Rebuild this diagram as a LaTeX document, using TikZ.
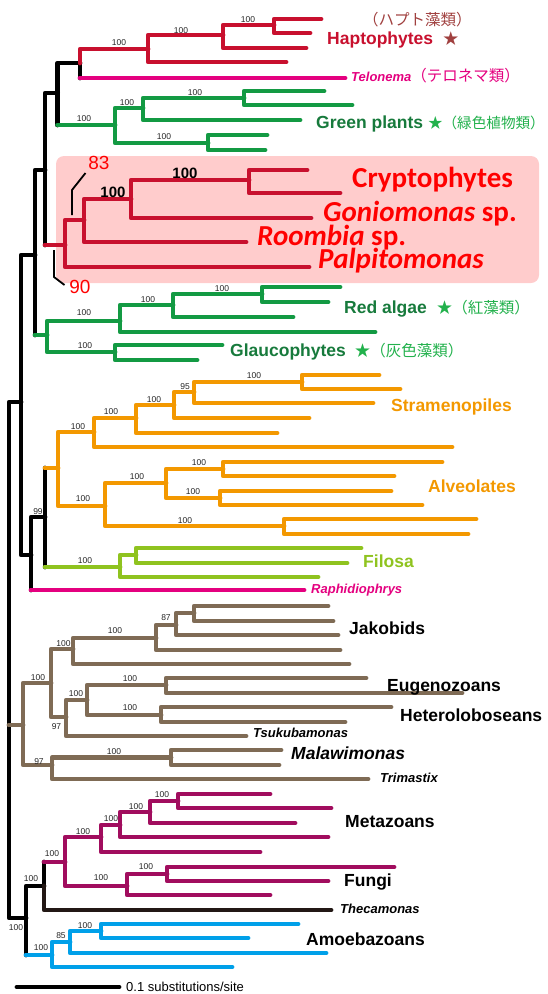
\documentclass[tikz,border=0pt]{standalone}
\usepackage{fontspec}
\setmainfont{Liberation Sans}
\newfontfamily\jpfont{Noto Sans CJK JP}
\newfontfamily\cryfont{Carlito}
\newcommand{\jps}{\fontsize{15.5}{17}\selectfont\mdseries\upshape\jpfont}
\usetikzlibrary{calc}

\definecolor{hapred}{HTML}{C8102E}
\definecolor{hapjp}{HTML}{A0403F}
\definecolor{telpink}{HTML}{E4007F}
\definecolor{grn}{HTML}{139A43}
\definecolor{grntext}{HTML}{177A3C}
\definecolor{grnjp}{HTML}{22B14C}
\definecolor{org}{HTML}{F39800}
\definecolor{fil}{HTML}{8FC31F}
\definecolor{exc}{HTML}{7F6B55}
\definecolor{opi}{HTML}{A10D5E}
\definecolor{amo}{HTML}{00A0E9}
\definecolor{thec}{HTML}{231815}
\definecolor{boxpink}{HTML}{FFCCCC}

\tikzset{
  branch/.style={line width=4.8pt, line cap=round, line join=round},
  bb/.style={branch, draw=black},
  hap/.style={branch, draw=hapred},
  pnk/.style={branch, draw=telpink},
  grb/.style={branch, draw=grn},
  orb/.style={branch, draw=org},
  fib/.style={branch, draw=fil},
  exb/.style={branch, draw=exc},
  opb/.style={branch, draw=opi},
  amb/.style={branch, draw=amo},
  thb/.style={branch, draw=thec},
  lead/.style={line width=1.8pt, draw=black, line join=round},
  boot/.style={inner sep=0pt, font=\fontsize{8.5}{9}\selectfont, text=black!85},
  bootbig/.style={inner sep=0pt, font=\fontsize{15}{16}\selectfont\bfseries},
  clade/.style={anchor=base west, inner sep=0pt, font=\fontsize{17.5}{19}\selectfont\bfseries},
  taxon/.style={anchor=base west, inner sep=0pt, font=\fontsize{13}{15}\selectfont\bfseries\itshape},
  crypto/.style={anchor=base west, inner sep=0pt, text=red, font=\fontsize{29}{31}\selectfont\cryfont\bfseries},
  jplabel/.style={anchor=base west, inner sep=0pt, font=\jps}
}

\begin{document}
\begin{tikzpicture}[x=1pt, y=-1pt]
  \useasboundingbox (0,0) rectangle (547,994);
  \newcommand{\Supp}[3]{\node[boot] (#1) at (#2) {#3};}

  % highlighted cryptophyte box
  \fill[boxpink, rounded corners=8pt] (56,156) rectangle (539,283);

  % backbone nodes
  \coordinate (root) at (9,725);
  \coordinate (D)    at (21,402);
  \coordinate (C)    at (35,255);
  \coordinate (B)    at (45,170);
  \coordinate (HG)   at (57.6,93);
  \coordinate (S)    at (31,555);
  \coordinate (SF)   at (45,517);
  \coordinate (AM)   at (26,918);
  \coordinate (Ob)   at (44,886);

  % haptophytes + Telonema
  \coordinate (H0) at (80,63);
  \coordinate (H2) at (148,49);
  \coordinate (H3) at (223,35);
  \coordinate (H4) at (274,25);
  \coordinate (h2t) at (286,62);
  \coordinate (h3t) at (306,48);
  \coordinate (h4a) at (321,19);
  \coordinate (h4b) at (310,33);
  \coordinate (telt) at (345,78);

  % green plants
  \coordinate (G1) at (115,125);
  \coordinate (G2) at (143,108);
  \coordinate (G3) at (244,98);
  \coordinate (G4) at (208,143);
  \coordinate (g2t) at (300,120);
  \coordinate (g3a) at (324,91);
  \coordinate (g3b) at (352,105);
  \coordinate (g4a) at (267,135);
  \coordinate (g4b) at (265,150);

  % cryptophytes and relatives
  \coordinate (Cr) at (65,245);
  \coordinate (C2) at (84,220);
  \coordinate (C3) at (131,199);
  \coordinate (C4) at (249,180);
  \coordinate (palp)  at (309,267);
  \coordinate (roomb) at (246,242);
  \coordinate (gonio) at (311,218);
  \coordinate (c4a) at (307,170);
  \coordinate (c4b) at (340,193);

  % red algae + glaucophytes
  \coordinate (RG) at (47,335);
  \coordinate (R1) at (120,321);
  \coordinate (R2) at (173,305);
  \coordinate (R3) at (262,294);
  \coordinate (Gl) at (115,352);
  \coordinate (r1t) at (375,332);
  \coordinate (r2t) at (293,317);
  \coordinate (r3a) at (340,287);
  \coordinate (r3b) at (328,302);
  \coordinate (gla) at (222,345);
  \coordinate (glb) at (197,360);

  % stramenopiles
  \coordinate (SA) at (58,468);
  \coordinate (S1) at (94,432);
  \coordinate (S2) at (136,418);
  \coordinate (S3) at (174,405);
  \coordinate (S4) at (194,392);
  \coordinate (S5) at (302,382);
  \coordinate (s1t) at (452,447);
  \coordinate (s2t) at (277,433);
  \coordinate (s3t) at (309,418);
  \coordinate (s4t) at (373,403);
  \coordinate (s5a) at (379,375);
  \coordinate (s5b) at (400,389);

  % alveolates
  \coordinate (A1) at (105,506);
  \coordinate (A2) at (166,483);
  \coordinate (A3) at (284,526);
  \coordinate (A4) at (223,469);
  \coordinate (A5) at (220,498);
  \coordinate (a4a) at (442,462);
  \coordinate (a4b) at (394,476);
  \coordinate (a5a) at (391,491);
  \coordinate (a5b) at (422,505);
  \coordinate (a3a) at (476,519);
  \coordinate (a3b) at (468,534);

  % filosa, Raphidiophrys
  \coordinate (Fi) at (120,567);
  \coordinate (F2) at (136,555);
  \coordinate (fit) at (318,577);
  \coordinate (f2a) at (361,548);
  \coordinate (f2b) at (347,563);
  \coordinate (raph) at (304,590);

  % excavates
  \coordinate (E)   at (23,725);
  \coordinate (E1)  at (51,683);
  \coordinate (J)   at (73,649);
  \coordinate (J2)  at (156,638);
  \coordinate (J3)  at (176,625);
  \coordinate (J4)  at (194,613);
  \coordinate (jt)  at (349,664);
  \coordinate (j2t) at (340,650);
  \coordinate (j3t) at (338,635);
  \coordinate (j4a) at (328,606);
  \coordinate (j4b) at (333,621);
  \coordinate (EH)  at (66,717);
  \coordinate (EH1) at (87,700);
  \coordinate (Eu)  at (166,685);
  \coordinate (He)  at (161,715);
  \coordinate (tsuk) at (246,736);
  \coordinate (eua) at (366,678);
  \coordinate (eub) at (462,693);
  \coordinate (hea) at (391,707);
  \coordinate (heb) at (345,722);
  \coordinate (Mw)  at (52,765);
  \coordinate (Ma)  at (171,757.5);
  \coordinate (trim) at (368,779);
  \coordinate (maa) at (281,750);
  \coordinate (mab) at (279,765);

  % opisthokonts, Thecamonas
  \coordinate (Op) at (65,862);
  \coordinate (Me) at (101,837);
  \coordinate (M2) at (120,825);
  \coordinate (M3) at (150,812);
  \coordinate (M4) at (178,801);
  \coordinate (met) at (260,852);
  \coordinate (m2t) at (328,837);
  \coordinate (m3t) at (295,823);
  \coordinate (m4a) at (270,794);
  \coordinate (m4b) at (331,808);
  \coordinate (Fu)  at (127,886);
  \coordinate (Fu2) at (167,874);
  \coordinate (fut) at (270,895);
  \coordinate (fu2a) at (394,867);
  \coordinate (fu2b) at (328,881);
  \coordinate (thect) at (331,910);

  % amoebozoans
  \coordinate (Amb) at (52,955);
  \coordinate (Am2) at (70,942);
  \coordinate (Am3) at (101,931);
  \coordinate (ambt) at (232,967);
  \coordinate (am2t) at (326,953);
  \coordinate (am3a) at (298,924);
  \coordinate (am3b) at (248,938);

  % black backbone
  \draw[bb] (root) |- (D) (root) |- (AM);
  \draw[bb] (D) |- (C) (D) |- (S);
  \draw[bb] (C) |- (B) (C) -- (C |- RG);
  \draw[bb] (B) |- (HG) (B) -- (B |- Cr);
  \draw[bb] (HG) |- (H0) (HG) -- (HG |- G1);
  \draw[bb] (H0) -- (H0 |- telt);
  \draw[bb] (S) |- (SF) (S) -- (S |- raph);
  \draw[bb] (SF) -- (SF |- SA) (SF) -- (SF |- Fi);
  \draw[bb] (AM) |- (Ob) (AM) -- (AM |- Amb);
  \draw[bb] (Ob) -- (Ob |- Op);

  % haptophytes
  \draw[hap] (H0) |- (H2);
  \draw[hap] (H2) |- (H3) (H2) |- (h2t);
  \draw[hap] (H3) |- (H4) (H3) |- (h3t);
  \draw[hap] (H4) |- (h4a) (H4) |- (h4b);
  \draw[pnk] (H0 |- telt) -- (telt);

  % green plants
  \draw[grb] (HG |- G1) -- (G1);
  \draw[grb] (G1) |- (G2) (G1) |- (G4);
  \draw[grb] (G2) |- (G3) (G2) |- (g2t);
  \draw[grb] (G3) |- (g3a) (G3) |- (g3b);
  \draw[grb] (G4) |- (g4a) (G4) |- (g4b);

  % cryptophytes
  \draw[hap] (B |- Cr) -- (Cr);
  \draw[hap] (Cr) |- (C2) (Cr) |- (palp);
  \draw[hap] (C2) |- (C3) (C2) |- (roomb);
  \draw[hap] (C3) |- (C4) (C3) |- (gonio);
  \draw[hap] (C4) |- (c4a) (C4) |- (c4b);

  % red algae, glaucophytes
  \draw[grb] (C |- RG) -- (RG);
  \draw[grb] (RG) |- (R1) (RG) |- (Gl);
  \draw[grb] (R1) |- (R2) (R1) |- (r1t);
  \draw[grb] (R2) |- (R3) (R2) |- (r2t);
  \draw[grb] (R3) |- (r3a) (R3) |- (r3b);
  \draw[grb] (Gl) |- (gla) (Gl) |- (glb);

  % stramenopiles, alveolates
  \draw[orb] (SF |- SA) -- (SA);
  \draw[orb] (SA) |- (S1) (SA) |- (A1);
  \draw[orb] (S1) |- (S2) (S1) |- (s1t);
  \draw[orb] (S2) |- (S3) (S2) |- (s2t);
  \draw[orb] (S3) |- (S4) (S3) |- (s3t);
  \draw[orb] (S4) |- (S5) (S4) |- (s4t);
  \draw[orb] (S5) |- (s5a) (S5) |- (s5b);
  \draw[orb] (A1) |- (A2) (A1) |- (A3);
  \draw[orb] (A2) |- (A4) (A2) |- (A5);
  \draw[orb] (A4) |- (a4a) (A4) |- (a4b);
  \draw[orb] (A5) |- (a5a) (A5) |- (a5b);
  \draw[orb] (A3) |- (a3a) (A3) |- (a3b);

  % filosa, Raphidiophrys
  \draw[fib] (SF |- Fi) -- (Fi);
  \draw[fib] (Fi) |- (F2) (Fi) |- (fit);
  \draw[fib] (F2) |- (f2a) (F2) |- (f2b);
  \draw[pnk] (S |- raph) -- (raph);

  % excavates
  \draw[exb] (root) -- (E);
  \draw[exb] (E) |- (E1) (E) |- (Mw);
  \draw[exb] (E1) |- (J) (E1) |- (EH);
  \draw[exb] (J) |- (J2) (J) |- (jt);
  \draw[exb] (J2) |- (J3) (J2) |- (j2t);
  \draw[exb] (J3) |- (J4) (J3) |- (j3t);
  \draw[exb] (J4) |- (j4a) (J4) |- (j4b);
  \draw[exb] (EH) |- (EH1) (EH) |- (tsuk);
  \draw[exb] (EH1) |- (Eu) (EH1) |- (He);
  \draw[exb] (Eu) |- (eua) (Eu) |- (eub);
  \draw[exb] (He) |- (hea) (He) |- (heb);
  \draw[exb] (Mw) |- (Ma) (Mw) |- (trim);
  \draw[exb] (Ma) |- (maa) (Ma) |- (mab);

  % opisthokonts
  \draw[opb] (Ob |- Op) -- (Op);
  \draw[opb] (Op) |- (Me) (Op) |- (Fu);
  \draw[opb] (Me) |- (M2) (Me) |- (met);
  \draw[opb] (M2) |- (M3) (M2) |- (m2t);
  \draw[opb] (M3) |- (M4) (M3) |- (m3t);
  \draw[opb] (M4) |- (m4a) (M4) |- (m4b);
  \draw[opb] (Fu) |- (Fu2) (Fu) |- (fut);
  \draw[opb] (Fu2) |- (fu2a) (Fu2) |- (fu2b);
  \draw[thb] (Ob) |- (thect);

  % amoebozoans
  \draw[amb] (AM |- Amb) -- (Amb);
  \draw[amb] (Amb) |- (Am2) (Amb) |- (ambt);
  \draw[amb] (Am2) |- (Am3) (Am2) |- (am2t);
  \draw[amb] (Am3) |- (am3a) (Am3) |- (am3b);

  % support values
  \Supp{b1}{119,43}{100}
  \Supp{b2}{181,31}{100}
  \Supp{b3}{248,20}{100}
  \Supp{b4}{84,119}{100}
  \Supp{b5}{127,103}{100}
  \Supp{b6}{195,93}{100}
  \Supp{b7}{164,137}{100}
  \Supp{b10}{84,313}{100}
  \Supp{b11}{148,300}{100}
  \Supp{b12}{222,289}{100}
  \Supp{b13}{85,346}{100}
  \Supp{b14}{78,427}{100}
  \Supp{b15}{111,412}{100}
  \Supp{b16}{154,400}{100}
  \Supp{b17}{185,387}{95}
  \Supp{b18}{254,376}{100}
  \Supp{b19}{83,499}{100}
  \Supp{b20}{137,477}{100}
  \Supp{b21}{199,463}{100}
  \Supp{b22}{193,492}{100}
  \Supp{b23}{185,521}{100}
  \Supp{b24}{85,561}{100}
  \Supp{b25}{38,512}{99}
  \Supp{b26}{38,678}{100}
  \Supp{b27}{63.5,644}{100}
  \Supp{b28}{115,631}{100}
  \Supp{b29}{166,618}{87}
  \Supp{b30}{56.5,727}{97}
  \Supp{b31}{76,694}{100}
  \Supp{b32}{130,679}{100}
  \Supp{b33}{130,708}{100}
  \Supp{b34}{39,762}{97}
  \Supp{b35}{114,752}{100}
  \Supp{b36}{16,928}{100}
  \Supp{b37}{31,879}{100}
  \Supp{b38}{52,854}{100}
  \Supp{b39}{83,832}{100}
  \Supp{b40}{111,819}{100}
  \Supp{b41}{136,807}{100}
  \Supp{b42}{162,795}{100}
  \Supp{b43}{101,878}{100}
  \Supp{b44}{146,867}{100}
  \Supp{b45}{41,948}{100}
  \Supp{b46}{61,936}{85}
  \Supp{b47}{85,926}{100}

  % cryptophyte supports
  \node[bootbig] (b8) at (113,192) {100};
  \node[bootbig] (b9) at (185,173) {100};
  \node[inner sep=0pt, text=red, font=\fontsize{19}{20}\selectfont] (n83) at (99,163) {83};
  \node[inner sep=0pt, text=red, font=\fontsize{19}{20}\selectfont] (n90) at (80,287) {90};
  \coordinate (l83a) at (72,215);
  \coordinate (l83b) at (72,190);
  \coordinate (l83c) at (85.5,173);
  \coordinate (l90a) at (54,250);
  \coordinate (l90b) at (54,277);
  \coordinate (l90c) at (64.5,285);
  \draw[lead] (l83a) -- (l83b) -- (l83c);
  \draw[lead] (l90a) -- (l90b) -- (l90c);

  % group labels
  \node[jplabel, text=hapjp] (hapjp) at (363,25) {（ハプト藻類）};
  \node[clade, text=hapred] (hapt) at (327,44.5) {Haptophytes\hspace{10pt}\textcolor{hapjp}{\jps ★}};
  \node[taxon, text=telpink] (tel) at (351,81.7) {Telonema{\jps（テロネマ類）}};
  \node[clade, text=grntext] (gpl) at (316,128) {Green plants \textcolor{grnjp}{\jps\fontsize{14.6}{16}\selectfont ★（緑色植物類）}};
  \node[crypto] (cry) at (352,187.7) {Cryptophytes};
  \node[crypto] (gon) at (323,221.7) {\itshape Goniomonas\upshape{} sp.};
  \node[crypto] (roo) at (257,245.7) {\itshape Roombia\upshape{} sp.};
  \node[crypto] (pal) at (318,268.3) {\itshape Palpitomonas};
  \node[clade, text=grntext] (red) at (344,313.7) {Red algae\hspace{10pt}\textcolor{grnjp}{\jps ★（紅藻類）}};
  \node[clade, text=grntext] (gla) at (230,356.7) {Glaucophytes\hspace{9pt}\textcolor{grnjp}{\jps ★（灰色藻類）}};
  \node[clade, text=org] (str) at (391,411.7) {Stramenopiles};
  \node[clade, text=org] (alv) at (428,492.7) {Alveolates};
  \node[clade, text=fil] (flo) at (363,567.7) {Filosa};
  \node[taxon, text=telpink] (rap) at (311,593.7) {Raphidiophrys};
  \node[clade] (jak) at (349,634.7) {Jakobids};
  \node[clade] (eug) at (387,691.7) {Eugenozoans};
  \node[clade] (het) at (400,721.7) {Heteroloboseans};
  \node[taxon] (tsu) at (253,737.7) {Tsukubamonas};
  \node[clade, font=\fontsize{17.5}{19}\selectfont\bfseries\itshape] (mal) at (291,759.7) {Malawimonas};
  \node[taxon] (tri) at (380,782.7) {Trimastix};
  \node[clade] (mtz) at (345,827.7) {Metazoans};
  \node[clade] (fng) at (344,886.7) {Fungi};
  \node[taxon] (thc) at (340,913.7) {Thecamonas};
  \node[clade] (amz) at (306,945.7) {Amoebazoans};

  % scale bar
  \coordinate (sb1) at (17,987);
  \coordinate (sb2) at (119,987);
  \draw[bb] (sb1) -- (sb2);
  \node[anchor=base west, inner sep=0pt, font=\fontsize{13}{15}\selectfont] (sbl) at (126,991.5) {0.1 substitutions/site};
\end{tikzpicture}
\end{document}
